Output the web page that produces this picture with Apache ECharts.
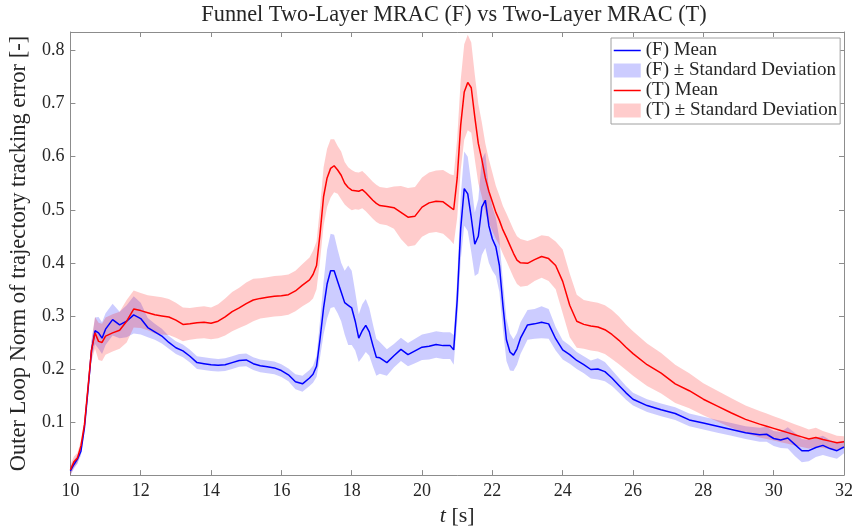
<!DOCTYPE html>
<html><head><meta charset="utf-8">
<script src="https://cdn.jsdelivr.net/npm/echarts@6/dist/echarts.min.js"></script>
<style>html,body{margin:0;padding:0;background:#fff}#c{width:857px;height:532px}</style>
</head><body><div id="c"></div>
<script>
// time grid [s]
const t = [
10.0,10.1,10.2,10.3,10.4,10.5,10.6,10.7,10.8,10.9,
11.0,11.2,11.4,11.6,11.8,12.0,12.2,12.4,12.6,12.8,
13.0,13.2,13.4,13.6,13.8,14.0,14.2,14.4,14.6,14.8,
15.0,15.2,15.4,15.6,15.8,16.0,16.2,16.4,16.6,16.8,
16.9,17.0,17.1,17.2,17.3,17.4,17.5,17.6,17.7,17.8,
17.9,18.0,18.1,18.2,18.3,18.4,18.5,18.6,18.7,18.8,
19.0,19.2,19.4,19.6,19.8,20.0,20.2,20.4,20.6,20.8,
20.9,21.0,21.1,21.2,21.3,21.4,21.5,21.6,21.7,21.8,
21.9,22.0,22.1,22.2,22.3,22.4,22.5,22.6,22.7,22.8,
23.0,23.2,23.4,23.6,23.8,24.0,24.2,24.4,24.6,24.8,
25.0,25.2,25.4,25.6,25.8,26.0,26.4,26.8,27.2,27.6,
28.0,28.4,28.8,29.2,29.6,29.8,30.0,30.2,30.4,30.6,
30.8,31.0,31.2,31.4,31.6,31.8,32.0];

// (F) Funnel Two-Layer MRAC: mean and standard deviation
const meanF = [
0.008,0.02,0.03,0.045,0.09,0.16,0.235,0.272,0.268,0.258,
0.275,0.293,0.283,0.29,0.302,0.295,0.278,0.27,0.262,0.25,
0.24,0.234,0.224,0.212,0.21,0.208,0.207,0.208,0.212,0.216,
0.217,0.21,0.206,0.204,0.202,0.197,0.189,0.176,0.172,0.183,
0.19,0.205,0.257,0.315,0.36,0.385,0.385,0.365,0.345,0.325,
0.32,0.315,0.29,0.258,0.272,0.282,0.27,0.245,0.222,0.221,
0.212,0.225,0.237,0.227,0.234,0.241,0.243,0.246,0.244,0.244,
0.236,0.33,0.465,0.54,0.53,0.485,0.435,0.45,0.505,0.518,
0.47,0.445,0.43,0.395,0.32,0.255,0.232,0.226,0.238,0.258,
0.283,0.285,0.288,0.285,0.257,0.236,0.227,0.216,0.208,0.199,
0.2,0.195,0.183,0.169,0.155,0.143,0.131,0.123,0.116,0.104,
0.098,0.092,0.086,0.08,0.076,0.077,0.069,0.066,0.07,0.058,
0.046,0.046,0.052,0.056,0.05,0.046,0.053];
const stdF = [
0.008,0.008,0.008,0.008,0.008,0.01,0.015,0.025,0.03,0.03,
0.03,0.03,0.025,0.03,0.035,0.03,0.018,0.015,0.014,0.012,
0.012,0.012,0.012,0.012,0.012,0.012,0.012,0.012,0.012,0.012,
0.012,0.012,0.012,0.012,0.012,0.012,0.012,0.014,0.015,0.015,
0.016,0.02,0.035,0.05,0.065,0.07,0.068,0.06,0.055,0.06,
0.075,0.07,0.055,0.045,0.05,0.05,0.045,0.04,0.035,0.03,
0.025,0.022,0.022,0.022,0.023,0.024,0.025,0.025,0.025,0.025,
0.028,0.04,0.06,0.07,0.07,0.065,0.06,0.07,0.09,0.09,
0.07,0.06,0.055,0.05,0.045,0.04,0.035,0.03,0.03,0.03,
0.028,0.028,0.03,0.028,0.022,0.018,0.017,0.016,0.016,0.017,
0.02,0.018,0.015,0.014,0.013,0.012,0.012,0.012,0.012,0.012,
0.012,0.012,0.012,0.012,0.013,0.014,0.014,0.015,0.02,0.022,
0.022,0.02,0.018,0.018,0.016,0.015,0.012];

// (T) Two-Layer MRAC: mean and standard deviation
const meanT = [
0.01,0.025,0.032,0.055,0.095,0.165,0.235,0.268,0.252,0.25,
0.262,0.268,0.273,0.29,0.313,0.31,0.306,0.302,0.3,0.298,
0.292,0.284,0.285,0.287,0.288,0.286,0.29,0.298,0.308,0.315,
0.323,0.33,0.333,0.335,0.337,0.338,0.34,0.347,0.358,0.368,
0.378,0.395,0.455,0.525,0.56,0.578,0.583,0.575,0.565,0.55,
0.542,0.537,0.536,0.535,0.538,0.532,0.525,0.518,0.512,0.508,
0.506,0.504,0.495,0.486,0.488,0.505,0.513,0.516,0.515,0.505,
0.5,0.56,0.66,0.722,0.74,0.73,0.675,0.625,0.595,0.56,
0.535,0.515,0.495,0.48,0.462,0.448,0.433,0.418,0.405,0.4,
0.399,0.406,0.412,0.408,0.395,0.365,0.32,0.29,0.284,0.281,
0.279,0.274,0.265,0.254,0.241,0.229,0.208,0.192,0.172,0.159,
0.143,0.13,0.117,0.105,0.096,0.092,0.088,0.084,0.08,0.076,
0.072,0.068,0.071,0.067,0.064,0.061,0.063];
const stdT = [
0.01,0.01,0.01,0.01,0.01,0.012,0.02,0.03,0.035,0.035,
0.035,0.035,0.035,0.04,0.035,0.033,0.033,0.035,0.035,0.034,
0.033,0.032,0.03,0.03,0.03,0.03,0.032,0.035,0.037,0.038,
0.04,0.04,0.038,0.038,0.038,0.038,0.038,0.038,0.04,0.042,
0.045,0.045,0.05,0.055,0.055,0.055,0.05,0.045,0.045,0.04,
0.038,0.038,0.035,0.035,0.035,0.035,0.035,0.035,0.035,0.035,
0.035,0.04,0.05,0.055,0.055,0.056,0.057,0.058,0.06,0.062,
0.065,0.075,0.085,0.09,0.09,0.085,0.08,0.075,0.07,0.065,
0.06,0.055,0.05,0.047,0.045,0.045,0.045,0.045,0.045,0.045,
0.042,0.04,0.04,0.042,0.045,0.06,0.06,0.05,0.046,0.046,
0.046,0.046,0.046,0.045,0.043,0.042,0.04,0.038,0.036,0.033,
0.03,0.029,0.028,0.026,0.025,0.024,0.023,0.022,0.021,0.02,
0.019,0.018,0.018,0.016,0.015,0.013,0.01];

const seriesNames = ['(F) Mean','(F) \u00b1 Standard Deviation','(T) Mean','(T) \u00b1 Standard Deviation'];
const titleText = 'Funnel Two-Layer MRAC (F) vs Two-Layer MRAC (T)';
const yName = 'Outer Loop Norm of trajectory tracking error [-]';

const FONT = 'Liberation Serif';
const AX = '#8c8c8c';
const TXT = '#262626';

function band(mean, std, name, color) {
  return {
    type: 'custom', name: name, data: [[t[0], mean[0]]],
    itemStyle: {color: color}, silent: true, clip: true, z: 1,
    renderItem: function (params, api) {
      if (params.dataIndex !== 0) return null;
      const pts = [];
      for (let i = 0; i < t.length; i++) pts.push(api.coord([t[i], mean[i] + std[i]]));
      for (let i = t.length - 1; i >= 0; i--) pts.push(api.coord([t[i], Math.max(mean[i] - std[i], 0)]));
      return {type: 'polygon', shape: {points: pts}, style: {fill: color}};
    }
  };
}
function meanLine(mean, name, color) {
  return {
    type: 'line', name: name, data: t.map((x, i) => [x, mean[i]]),
    symbol: 'none', showSymbol: false, z: 3, silent: true,
    lineStyle: {color: color, width: 1.5}, itemStyle: {color: color}
  };
}

const chart = echarts.init(document.getElementById('c'), null, {renderer: 'canvas'});
const axisCommon = {
  axisLine: {show: true, onZero: false, lineStyle: {color: AX, width: 1}},
  axisTick: {show: true, inside: true, length: 5, lineStyle: {color: AX}},
  splitLine: {show: false}
};
chart.setOption({
  animation: false,
  backgroundColor: '#fff',
  title: {
    text: titleText, left: 454, top: 4, padding: 0, textAlign: 'center',
    textStyle: {fontFamily: FONT, fontSize: 22.3, fontWeight: 'normal', color: TXT}
  },
  grid: {left: 65, right: 13, top: 32, bottom: 51, containLabel: false},
  legend: {
    orient: 'vertical', left: 611, top: 38,
    itemWidth: 27, itemHeight: 14, itemGap: 1,
    padding: [3, 3, 4, 2],
    borderColor: '#a0a0a0', borderWidth: 1, backgroundColor: '#fff',
    selectedMode: false,
    textStyle: {fontFamily: FONT, fontSize: 19, color: TXT},
    data: [
      {name: seriesNames[0], itemStyle: {opacity: 0}, lineStyle: {width: 1.5, opacity: 1}},
      {name: seriesNames[1], icon: 'rect'},
      {name: seriesNames[2], itemStyle: {opacity: 0}, lineStyle: {width: 1.5, opacity: 1}},
      {name: seriesNames[3], icon: 'rect'}
    ]
  },
  xAxis: [
    Object.assign({
      type: 'value', min: 10, max: 32, interval: 2, position: 'bottom',
      axisLabel: {color: TXT, fontFamily: FONT, fontSize: 18, margin: 7},
      name: '{i|t} [s]', nameLocation: 'middle', nameGap: 25,
      nameTextStyle: {fontFamily: FONT, fontSize: 22, color: TXT,
        rich: {i: {fontFamily: FONT, fontSize: 22, fontStyle: 'italic', color: TXT}}}
    }, axisCommon),
    Object.assign({
      type: 'value', min: 10, max: 32, interval: 2, position: 'top',
      axisLabel: {show: false}
    }, axisCommon)
  ],
  yAxis: [
    Object.assign({
      type: 'value', min: 0, max: 0.835, interval: 0.1, position: 'left',
      axisLabel: {color: TXT, fontFamily: FONT, fontSize: 18, margin: 6, showMaxLabel: false,
        formatter: v => (v > 0.05 && v < 0.81) ? v.toFixed(1) : ''},
      name: yName, nameLocation: 'middle', nameGap: 34,
      nameTextStyle: {fontFamily: FONT, fontSize: 22.5, color: TXT}
    }, axisCommon),
    Object.assign({
      type: 'value', min: 0, max: 0.835, interval: 0.1, position: 'right',
      axisLabel: {show: false}
    }, axisCommon)
  ],
  series: [
    band(meanF, stdF, seriesNames[1], 'rgba(0,0,255,0.2)'),
    band(meanT, stdT, seriesNames[3], 'rgba(255,0,0,0.2)'),
    meanLine(meanF, seriesNames[0], '#0000ff'),
    meanLine(meanT, seriesNames[2], '#ff0000')
  ]
});
</script></body></html>
